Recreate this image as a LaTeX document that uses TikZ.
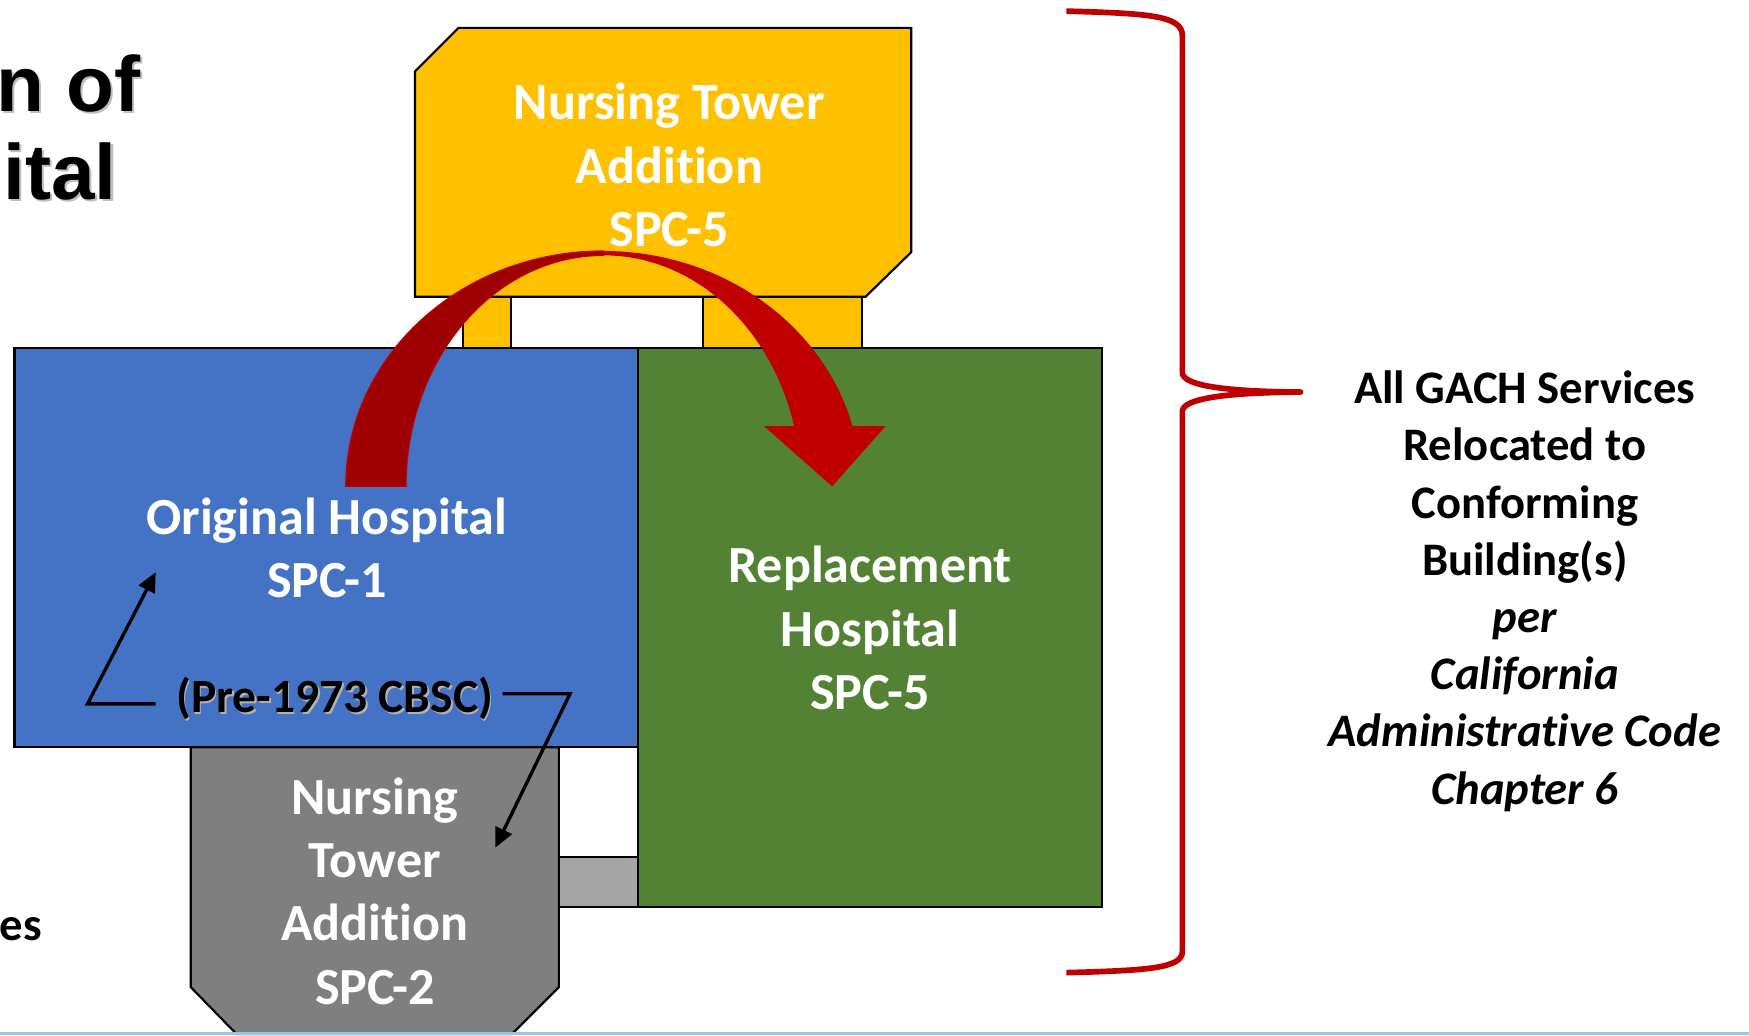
\documentclass[tikz,border=0pt]{standalone}
\usepackage{fontspec}
\setmainfont{Carlito}[Ligatures=NoCommon]
\newfontfamily\titlefont{Liberation Sans}
\usetikzlibrary{arrows.meta}
\definecolor{cblue}{HTML}{4472C4}
\definecolor{cgreen}{HTML}{548235}
\definecolor{cyellow}{HTML}{FFC000}
\definecolor{cgray}{HTML}{7F7F7F}
\definecolor{clgray}{HTML}{A5A5A5}
\definecolor{cred}{HTML}{C00000}
\definecolor{cdred}{HTML}{9E0000}
\definecolor{cline}{HTML}{9DC3E6}
\begin{document}
\begin{tikzpicture}[x=0.02cm,y=-0.02cm,
  bldg/.style={draw=black,line width=1.1pt,line join=miter},
  boxtext/.style={text=white,font=\fontsize{26.6}{32.3}\selectfont\bfseries,align=center,inner sep=0pt},
  sidetext/.style={text=black,font=\fontsize{23.8}{29.2}\selectfont\bfseries,align=center,inner sep=0pt},
  titletext/.style={font=\titlefont\fontsize{40}{46}\selectfont\bfseries,inner sep=0pt,anchor=base east},
  blkarrow/.style={draw=black,line width=1.7pt,-{Triangle[length=10pt,width=9pt]}},
  bracestyle/.style={draw=cred,line width=2.9pt,line join=round}]
\useasboundingbox (0,0) rectangle (1568,928);
\fill[white] (0,0) rectangle (1568,928);
% yellow legs
\filldraw[bldg,fill=cyellow] (415,266) rectangle (458,312);
\filldraw[bldg,fill=cyellow] (630,266) rectangle (773,312);
% yellow tower
\filldraw[bldg,fill=cyellow] (411,25) -- (817,25) -- (817,226) -- (776,266) -- (372,266) -- (372,64) -- cycle;
% blue original hospital
\filldraw[bldg,fill=cblue] (13,312) rectangle (572,670);
% small gray link
\filldraw[bldg,fill=clgray] (501,768) rectangle (572,813);
% green replacement
\filldraw[bldg,fill=cgreen] (572,312) rectangle (988,813);
% gray tower
\filldraw[bldg,fill=cgray] (171,670) -- (501,670) -- (501,885) -- (459,927) -- (212,927) -- (171,885) -- cycle;
% texts in buildings
\node[boxtext] (ntop) at (600,148) {Nursing Tower\\Addition\\SPC-5};
\node[boxtext] (orig) at (293,491) {Original Hospital\\SPC-1};
\node[boxtext] (repl) at (780,563) {Replacement\\Hospital\\SPC-5};
\node[boxtext] (nbot) at (336,799) {Nursing\\Tower\\Addition\\SPC-2};
\node[text=black!30,font=\fontsize{24.3}{29}\selectfont\bfseries,inner sep=0pt] (pres) at (301.5,627.5) {(Pre-1973 CBSC)};
\node[text=black,font=\fontsize{24.3}{29}\selectfont\bfseries,inner sep=0pt] (pre) at (300,626) {(Pre-1973 CBSC)};
% big curved arrow
\coordinate (afoot) at (310,436);
\coordinate (atop) at (541,225);
\filldraw[fill=cdred,draw=cred,line width=0.6pt] (afoot) arc[start angle=180,end angle=270,x radius=231,y radius=211] -- (541,229) arc[start angle=270,end angle=180,x radius=177,y radius=207] -- cycle;
\fill[cred] (atop) arc[start angle=270,end angle=345.2,x radius=231,y radius=211] -- (794,382) -- (746,436) -- (685,382) -- (711.9,382) arc[start angle=344.9,end angle=270,x radius=177,y radius=207] -- cycle;
% small black arrows
\coordinate (la0) at (139.6,631);
\coordinate (la1) at (78.5,631);
\coordinate (la2) at (139.6,513);
\draw[blkarrow,line join=miter] (la0) -- (la1) -- (la2);
\coordinate (ra0) at (450.5,622);
\coordinate (ra1) at (511,622);
\coordinate (ra2) at (444,760);
\draw[blkarrow,line join=miter] (ra0) -- (ra1) -- (ra2);
% brace
\coordinate (bt) at (956,10);
\coordinate (bm) at (1166,351.5);
\coordinate (bb) at (956,872);
\draw[bracestyle] (bt) .. controls (1030,12) and (1060,14) .. (1060,32) -- (1060,334) .. controls (1060,346) and (1100,351) .. (bm) .. controls (1100,352) and (1060,357) .. (1060,369) -- (1060,853) .. controls (1060,868) and (1030,870) .. (bb);
% right text
\node[sidetext] (side) at (1367,530) {All GACH Services\\Relocated to\\Conforming\\Building(s)\\\textit{per}\\\textit{California}\\\textit{Administrative Code}\\\textit{Chapter 6}};
% title fragments
\node[titletext,text=black!25] (t1s) at (128,102) {n of};
\node[titletext,text=black] (t1) at (126,100) {n of};
\node[titletext,text=black!25] (t2s) at (107,181) {ital};
\node[titletext,text=black] (t2) at (105,179) {ital};
\node[sidetext,anchor=base east] (es) at (38,843) {es};
% bottom line
\fill[cline] (0,925) rectangle (1568,928);
\end{tikzpicture}
\end{document}
